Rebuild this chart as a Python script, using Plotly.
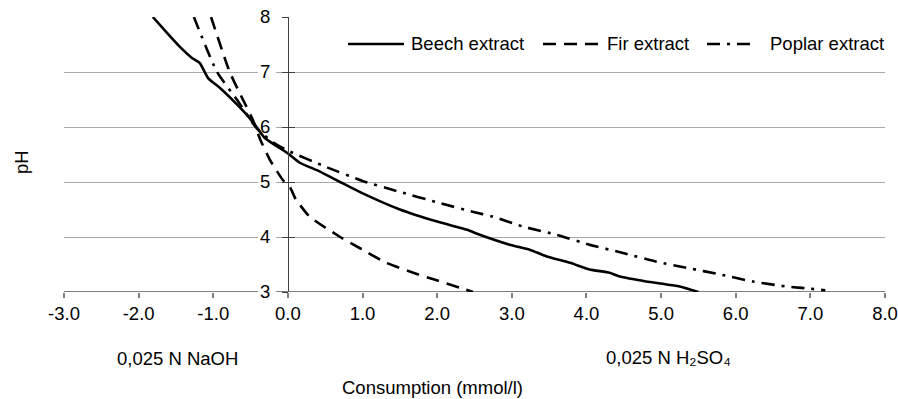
import plotly.graph_objects as go

# ---------------- data ----------------
beech_x = [-1.81, -1.62, -1.45, -1.29, -1.18, -1.07, -0.91, -0.74, -0.55, -0.42,
           -0.31, 0.0, 0.16, 0.43, 0.70, 0.96, 1.50, 2.00, 2.40, 2.57, 2.97,
           3.24, 3.46, 3.78, 4.04, 4.31, 4.45, 4.80, 5.25, 5.50]
beech_y = [8.00, 7.71, 7.46, 7.26, 7.16, 6.89, 6.71, 6.49, 6.22, 6.00,
           5.80, 5.52, 5.35, 5.19, 5.00, 4.82, 4.50, 4.28, 4.13, 4.04, 3.86,
           3.77, 3.65, 3.53, 3.41, 3.35, 3.28, 3.19, 3.10, 3.00]

fir_x = [-1.03, -0.78, -0.60, -0.47, -0.37, -0.24, -0.07, 0.03, 0.10, 0.29,
         0.70, 0.96, 1.32, 1.68, 1.95, 2.48]
fir_y = [8.00, 7.00, 6.49, 6.13, 5.77, 5.40, 5.04, 4.90, 4.70, 4.37,
         4.00, 3.80, 3.53, 3.35, 3.23, 3.00]

poplar_x = [-1.26, -0.95, -0.68, -0.47, -0.40, -0.20, 0.00, 0.50, 1.00, 1.50,
            2.00, 2.50, 2.75, 3.15, 3.60, 4.04, 4.49, 4.94, 5.38, 5.79,
            6.23, 6.68, 7.00, 7.20]
poplar_y = [8.00, 7.00, 6.49, 6.07, 5.95, 5.72, 5.57, 5.28, 5.02, 4.82,
            4.63, 4.45, 4.37, 4.19, 4.04, 3.86, 3.71, 3.55, 3.43, 3.32,
            3.19, 3.10, 3.06, 3.03]

series_names = ["Beech extract", "Fir extract", "Poplar extract"]
x_ticks = [-3, -2, -1, 0, 1, 2, 3, 4, 5, 6, 7, 8]
x_ticklabels = ["-3.0", "-2.0", "-1.0", "0.0", "1.0", "2.0", "3.0", "4.0",
                "5.0", "6.0", "7.0", "8.0"]
y_ticks = [3, 4, 5, 6, 7, 8]
x_range = [-3, 8]
y_range = [3, 8]

# ---------------- layout helpers ----------------
W, H = 898, 399
L, R, T, B = 64, 885, 17, 292
FONT = "Liberation Sans, Arial, sans-serif"
FS = 18.5


def px_x(px):
    return (px - L) / (R - L)


def px_y(py):
    return (B - py) / (B - T)


dash_style = "13px,8px"
dashdot_style = "13px,7px,3px,7px"
styles = [
    dict(color="black", width=2.6, dash="solid"),
    dict(color="black", width=2.6, dash=dash_style),
    dict(color="black", width=2.6, dash=dashdot_style),
]

fig = go.Figure()
for xs, ys, name, st in zip([beech_x, fir_x, poplar_x],
                            [beech_y, fir_y, poplar_y],
                            series_names, styles):
    fig.add_trace(go.Scatter(
        x=xs, y=ys, mode="lines", name=name,
        line=dict(color=st["color"], width=st["width"], dash=st["dash"],
                  shape="spline", smoothing=0.5),
        hoverinfo="skip"))

# empty helper trace so the overlaid axis (right half of crossing ticks) is drawn
fig.add_trace(go.Scatter(x=[None], y=[None], yaxis="y2", showlegend=False,
                         hoverinfo="skip"))

fig.update_layout(
    width=W, height=H,
    margin=dict(l=L, r=W - R, t=T, b=H - B, pad=0, autoexpand=False),
    paper_bgcolor="white", plot_bgcolor="white",
    showlegend=False,
    font=dict(family=FONT, size=FS, color="black"),
    xaxis=dict(range=x_range, tickvals=x_ticks, ticktext=x_ticklabels,
               ticks="outside", ticklen=5, tickwidth=1.5, tickcolor="#808080",
               showgrid=False, zeroline=False, showline=False,
               automargin=False, ticklabelstandoff=0,
               tickfont=dict(family=FONT, size=FS, color="black")),
    yaxis=dict(range=y_range, tickvals=y_ticks, anchor="free",
               position=(0 - x_range[0]) / (x_range[1] - x_range[0]),
               ticks="outside", ticklen=6, tickwidth=1, tickcolor="#404040",
               showline=True, linecolor="#404040", linewidth=1,
               showgrid=True, gridcolor="#a8a8a8", gridwidth=1,
               zeroline=False, ticklabelstandoff=8, automargin=False,
               tickfont=dict(family=FONT, size=FS, color="black")),
    yaxis2=dict(range=y_range, tickvals=y_ticks, overlaying="y", anchor="free",
                position=(0 - x_range[0]) / (x_range[1] - x_range[0]),
                ticks="inside", ticklen=6, tickwidth=1, tickcolor="#404040",
                showticklabels=False, showgrid=False, zeroline=False,
                showline=False, automargin=False),
)

shapes = []
# x-axis line at the bottom (drawn under the tick label backgrounds)
shapes.append(dict(type="line", xref="x", yref="y", x0=x_range[0], x1=x_range[1],
                   y0=y_range[0], y1=y_range[0], layer="between",
                   line=dict(color="#808080", width=2)))
# white backgrounds behind the y tick labels (they interrupt grid lines)
xu = (R - L) / (x_range[1] - x_range[0])
yu = (B - T) / (y_range[1] - y_range[0])
for t in y_ticks:
    shapes.append(dict(type="rect", xref="x", yref="y",
                       x0=-30 / xu, x1=-12 / xu,
                       y0=t - 7 / yu, y1=t + 7 / yu, layer="between",
                       line=dict(width=0), fillcolor="white"))

# legend (drawn manually to match the reference's long line samples)
legend_y = px_y(44)
legend_items = [
    (348, 404, 409, "solid"),
    (543, 599, 605, dash_style),
    (707, 753, 768, dashdot_style),
]
annotations = []
for (lx0, lx1, tx, dsh), name in zip(legend_items, series_names):
    shapes.append(dict(type="line", xref="paper", yref="paper",
                       x0=px_x(lx0), x1=px_x(lx1), y0=legend_y, y1=legend_y,
                       line=dict(color="black", width=2.6, dash=dsh)))
    annotations.append(dict(xref="paper", yref="paper", x=px_x(tx), y=legend_y,
                            text=name, showarrow=False, xanchor="left",
                            yanchor="middle", font=dict(size=FS)))

annotations += [
    dict(xref="paper", yref="paper", x=px_x(21), y=px_y(162), text="pH",
         textangle=-90, showarrow=False, xanchor="center", yanchor="middle",
         font=dict(size=FS)),
    dict(xref="paper", yref="paper", x=px_x(177), y=px_y(358),
         text="0,025 N NaOH", showarrow=False, xanchor="center",
         yanchor="middle", font=dict(size=FS)),
    dict(xref="paper", yref="paper", x=px_x(668), y=px_y(357),
         text="0,025 N H₂SO₄", showarrow=False,
         xanchor="center", yanchor="middle", font=dict(size=FS)),
    dict(xref="paper", yref="paper", x=px_x(432), y=px_y(387),
         text="Consumption (mmol/l)", showarrow=False, xanchor="center",
         yanchor="middle", font=dict(size=FS)),
]

fig.update_layout(shapes=shapes, annotations=annotations)
fig.write_html("out.html")
